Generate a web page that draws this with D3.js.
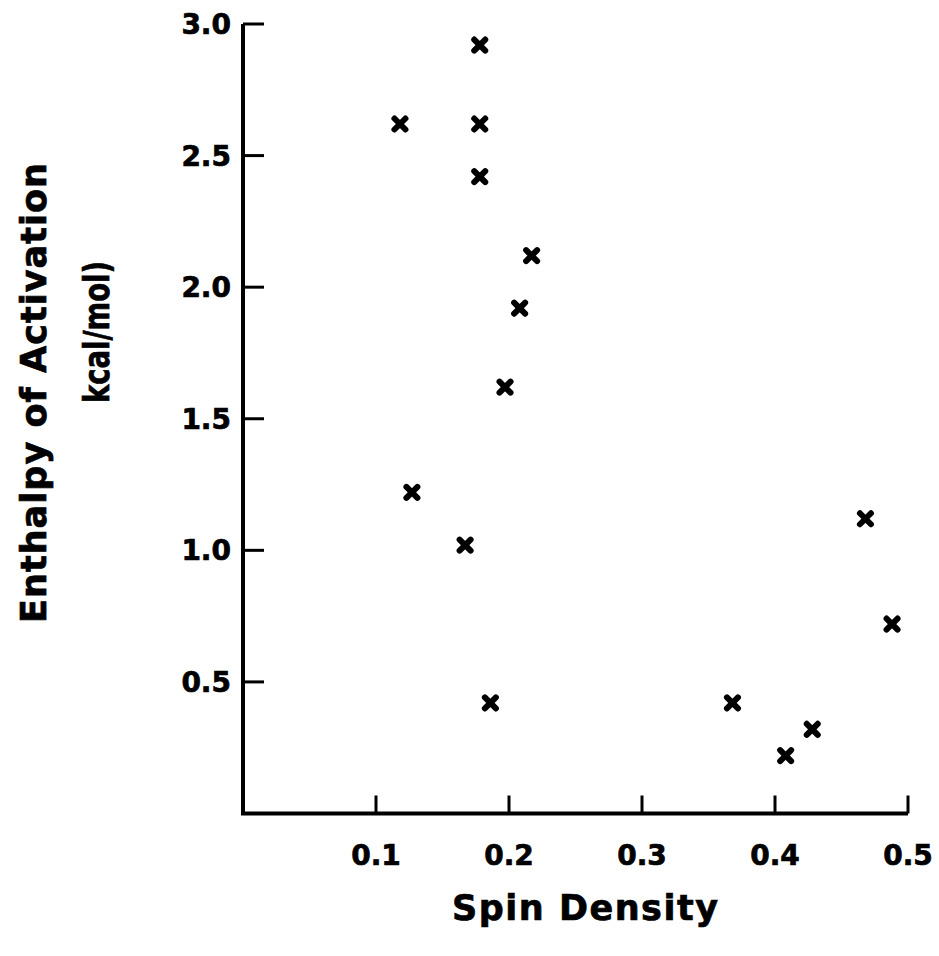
<!DOCTYPE html>
<html>
<head>
<meta charset="utf-8">
<script src="https://cdn.jsdelivr.net/npm/d3@7"></script>
<style>
  html, body { margin: 0; padding: 0; background: #fff; }
  svg { display: block; }
  text { font-family: "DejaVu Sans", sans-serif; font-weight: bold; fill: #000;
         stroke: #000; stroke-width: 0.7px; }
</style>
</head>
<body>
<svg id="chart" width="939" height="956"></svg>
<script>
// Spin density vs. enthalpy of activation (kcal/mol)
const spinDensity = [0.118, 0.178, 0.178, 0.178, 0.217, 0.208, 0.197, 0.127, 0.167, 0.186, 0.368, 0.408, 0.428, 0.468, 0.488];
const enthalpy    = [2.62, 2.92, 2.62, 2.42, 2.12, 1.92, 1.62, 1.22, 1.02, 0.42, 0.42, 0.22, 0.32, 1.12, 0.72];
const xTicks = [0.1, 0.2, 0.3, 0.4, 0.5];
const yTicks = [0.5, 1.0, 1.5, 2.0, 2.5, 3.0];
const xTitle = "Spin Density";
const yTitle = ["Enthalpy of Activation", "kcal/mol)"];

const svg = d3.select("#chart");
const x = d3.scaleLinear().domain([0, 0.5]).range([243, 908]);
const y = d3.scaleLinear().domain([0, 3.0]).range([813.5, 24]);

// axes: ticks point inward, labels placed by hand
const axisG = svg.append("g");
axisG.append("path")
  .attr("d", `M${x(0)},${y(3.0)}L${x(0)},${y(0)}L${x(0.5)},${y(0)}`)
  .attr("fill", "none").attr("stroke", "#000").attr("stroke-width", 4)
  .attr("stroke-linejoin", "miter");

axisG.selectAll(".ytick").data(yTicks).join("line")
  .attr("x1", x(0)).attr("x2", x(0) + 21)
  .attr("y1", d => y(d)).attr("y2", d => y(d))
  .attr("stroke", "#000").attr("stroke-width", 3);

axisG.selectAll(".xtick").data(xTicks).join("line")
  .attr("x1", d => x(d)).attr("x2", d => x(d))
  .attr("y1", y(0)).attr("y2", y(0) - 18)
  .attr("stroke", "#000").attr("stroke-width", 3);

axisG.selectAll(".ylabel").data(yTicks).join("text")
  .attr("x", 231).attr("y", d => y(d) + 10)
  .attr("text-anchor", "end")
  .attr("font-size", 28)
  .text(d3.format(".1f"));

axisG.selectAll(".xlabel").data(xTicks).join("text")
  .attr("x", d => x(d)).attr("y", 865)
  .attr("text-anchor", "middle")
  .attr("font-size", 28)
  .text(d3.format(".1f"));

// axis titles
svg.append("text")
  .attr("x", 585).attr("y", 920)
  .attr("text-anchor", "middle")
  .attr("font-size", 35)
  .attr("textLength", 266).attr("lengthAdjust", "spacing")
  .text(xTitle);

svg.append("text")
  .attr("transform", "translate(46,393) rotate(-90)")
  .attr("text-anchor", "middle")
  .attr("font-size", 35)
  .attr("textLength", 460).attr("lengthAdjust", "spacing")
  .text(yTitle[0]);

svg.append("text")
  .attr("transform", "translate(109,332) rotate(-90)")
  .attr("text-anchor", "middle")
  .attr("font-size", 35)
  .attr("textLength", 142).attr("lengthAdjust", "spacingAndGlyphs")
  .text(yTitle[1]);

// data points drawn as bold x marks
const r = 5.5;
const pts = svg.append("g").selectAll("g")
  .data(spinDensity.map((s, i) => ({ s, h: enthalpy[i] })))
  .join("g")
  .attr("transform", d => `translate(${x(d.s)},${y(d.h)})`);
pts.append("path")
  .attr("d", `M${-r},${-r}L${r},${r}M${-r},${r}L${r},${-r}`)
  .attr("stroke", "#000").attr("stroke-width", 6)
  .attr("stroke-linecap", "round").attr("fill", "none");
</script>
</body>
</html>
